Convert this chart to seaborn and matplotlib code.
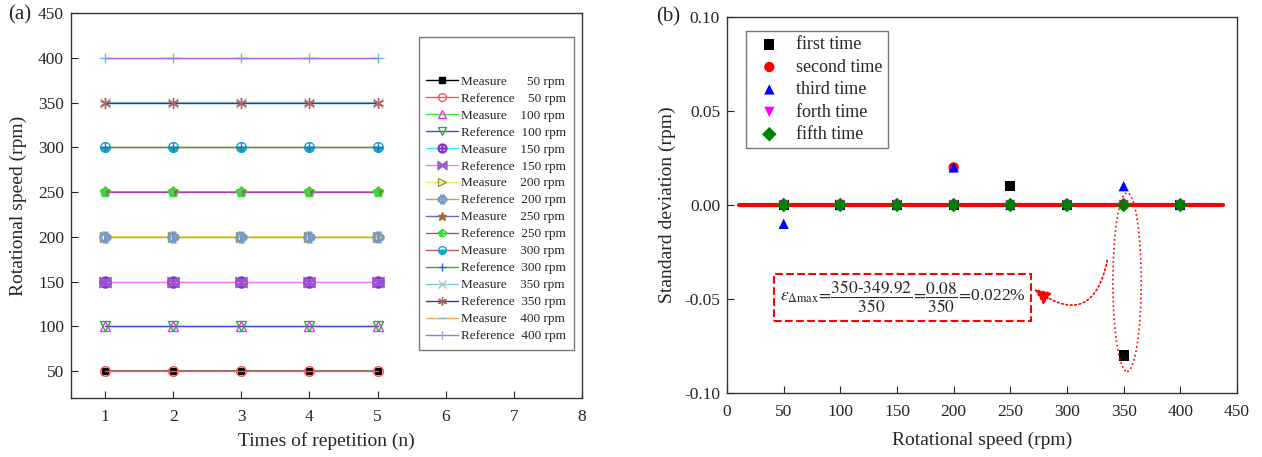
import numpy as np
import matplotlib
matplotlib.use("Agg")
import matplotlib.pyplot as plt
import pandas as pd
import seaborn as sns
from matplotlib.patches import Ellipse

# ---- panel (a) data ----
times = [1, 2, 3, 4, 5]
rpm_levels = [50, 100, 150, 200, 250, 300, 350, 400]
measure = {
    50: [50, 50, 49.99, 50, 50],
    100: [100, 100, 100, 100, 100],
    150: [150, 150, 150, 150, 150],
    200: [200, 200.02, 200.02, 200, 200],
    250: [250.01, 250, 250, 250, 250],
    300: [300, 300, 300, 300, 300],
    350: [349.92, 350, 350.01, 350, 350],
    400: [400, 400, 400, 400, 400],
}
reference = {r: [r] * 5 for r in rpm_levels}

# ---- panel (b) data ----
speeds = [50, 100, 150, 200, 250, 300, 350, 400]
first_time = [0, 0, 0, 0, 0.01, 0, -0.08, 0]
second_time = [0, 0, 0, 0.02, 0, 0, 0, 0]
third_time = [-0.01, 0, 0, 0.02, 0, 0, 0.01, 0]
forth_time = [0, 0, 0, 0, 0, 0, 0, 0]
fifth_time = [0, 0, 0, 0, 0, 0, 0, 0]

sns.set_style("ticks")
plt.rcParams["font.family"] = ["Liberation Serif", "DejaVu Serif"]
plt.rcParams["mathtext.fontset"] = "stix"
plt.rcParams["axes.unicode_minus"] = False

# (line colour, marker, marker edge, marker face, fillstyle, size)
meas_style = {
    50: ("black", "s", "black", "black", "full", 5),
    100: ("#33ee33", "^", "#ee33ee", "none", "full", 7),
    150: ("#33eeee", r"$\oplus$", "#8833cc", "#8833cc", "full", 8),
    200: ("#eeee44", ">", "#999933", "none", "full", 7),
    250: ("#6666cc", "*", "#aa6633", "#aa6633", "full", 8),
    300: ("#cc5555", "o", "#11aacc", "#11aacc", "bottom", 7),
    350: ("#77cccc", "x", "#bbbbbb", "#bbbbbb", "full", 7),
    400: ("#ffaa55", "_", "#66bbdd", "#66bbdd", "full", 8),
}
ref_style = {
    50: ("#ff5555", "o", "#ff5555", "none", "full", 7),
    100: ("#4444ee", "v", "#33aa33", "none", "full", 7),
    150: ("#ff77ff", r"$\bowtie$", "#9955cc", "#9955cc", "full", 8),
    200: ("#aaaa55", r"$\Phi$", "#7799cc", "#7799cc", "full", 8),
    250: ("#aa44aa", "p", "#33dd33", "#33dd33", "left", 7),
    300: ("#33aa33", "+", "#3366dd", "#3366dd", "full", 7),
    350: ("#3333aa", (6, 2, 0), "#aa6666", "#aa6666", "full", 8),
    400: ("#aa66ff", "|", "#66bbdd", "#66bbdd", "full", 7),
}

fig = plt.figure(figsize=(12.62, 4.57), dpi=100)
ax1 = fig.add_axes([71 / 1262, 59 / 457, 511 / 1262, 385 / 457])
ax2 = fig.add_axes([727 / 1262, 64 / 457, 510 / 1262, 376 / 457])

for r in rpm_levels:
    for kind, vals, st in [("Measure", measure[r], meas_style[r]),
                           ("Reference", reference[r], ref_style[r])]:
        lc, mk, mec, mfc, fs, ms = st
        pad = "    " if kind == "Measure" else "  "
        sp = "  " if r < 100 else ""
        sns.lineplot(x=times, y=vals, ax=ax1, color=lc, lw=1.0, marker=mk,
                     mec=mec, mfc=mfc, fillstyle=fs, ms=ms, mew=1.0,
                     label=f"{kind}{pad}{sp}{r} rpm")

ax1.set_xlim(0.5, 8)
ax1.set_ylim(20, 450)
ax1.set_xticks(range(1, 9))
ax1.set_yticks(range(50, 451, 50))
ax1.set_xlabel("Times of repetition (n)", fontsize=14, labelpad=5)
ax1.set_ylabel("Rotational speed (rpm)", fontsize=14, labelpad=8)
leg1 = ax1.legend(loc="upper right", bbox_to_anchor=(0.984, 0.938), fontsize=9.5,
                  title="\n", title_fontsize=9.5, handlelength=2.4,
                  handletextpad=0.2, labelspacing=0.36, borderpad=0.6,
                  borderaxespad=0, markerscale=0.8,
                  fancybox=False, edgecolor="#777777", framealpha=1)

# panel (b)
ax2.axhline(0, xmin=11 / 450, xmax=438 / 450, color="red", lw=3, zorder=1)
series = [("first time", first_time, "s", "black"),
          ("second time", second_time, "o", "red"),
          ("third time", third_time, "^", "blue"),
          ("forth time", forth_time, "v", "magenta"),
          ("fifth time", fifth_time, "D", "green")]
for name, vals, mk, col in series:
    sns.scatterplot(x=speeds, y=vals, ax=ax2, marker=mk, color=col, s=55,
                    edgecolor="none", label=name, zorder=3)

ax2.set_xlim(0, 450)
ax2.set_ylim(-0.10, 0.10)
ax2.set_xticks(range(0, 451, 50))
ax2.set_yticks([-0.10, -0.05, 0.00, 0.05, 0.10])
ax2.yaxis.set_major_formatter(matplotlib.ticker.FormatStrFormatter("%.2f"))
ax2.set_xlabel("Rotational speed (rpm)", fontsize=14, labelpad=8)
ax2.set_ylabel("Standard deviation (rpm)", fontsize=14, labelpad=6)
ax2.legend(loc="upper left", bbox_to_anchor=(0.037, 0.963), fontsize=13,
           handlelength=2.0, handletextpad=0.5, labelspacing=0.3,
           borderpad=0.3, borderaxespad=0, fancybox=False,
           edgecolor="#777777", framealpha=1)

ax2.add_patch(Ellipse((353, -0.041), width=25, height=0.095, fill=False,
                      edgecolor="red", ls=":", lw=1.2, zorder=4))
ax2.text(155, -0.049,
         r"$\varepsilon_{\Delta\max}\!=\!\dfrac{350\text{-}349.92}{350}\!=\!\dfrac{0.08}{350}\!=\!$0.022%",
         fontsize=12.5, ha="center", va="center",
         bbox=dict(boxstyle="square,pad=0.3", fc="white", ec="red", ls="--", lw=1.5))
ax2.annotate("", xy=(269, -0.0438), xytext=(336, -0.028),
             arrowprops=dict(arrowstyle="-|>,head_length=1.0,head_width=0.45",
                             color="red", ls=":", lw=1.2,
                             connectionstyle="arc3,rad=-0.8"))

for ax in (ax1, ax2):
    ax.tick_params(direction="in", labelsize=12.5, length=5, pad=8,
                   top=False, right=False)
    for s in ax.spines.values():
        s.set_linewidth(1.0)
        s.set_color("#333333")
ax1.tick_params(axis="y", pad=5)
ax2.tick_params(axis="y", pad=5)

fig.text(20 / 1262, 1 - 15 / 457, "(a)", fontsize=15, ha="center", va="center")
fig.text(668 / 1262, 1 - 17 / 457, "(b)", fontsize=15, ha="center", va="center")

fig.savefig("out.png", dpi=100)
